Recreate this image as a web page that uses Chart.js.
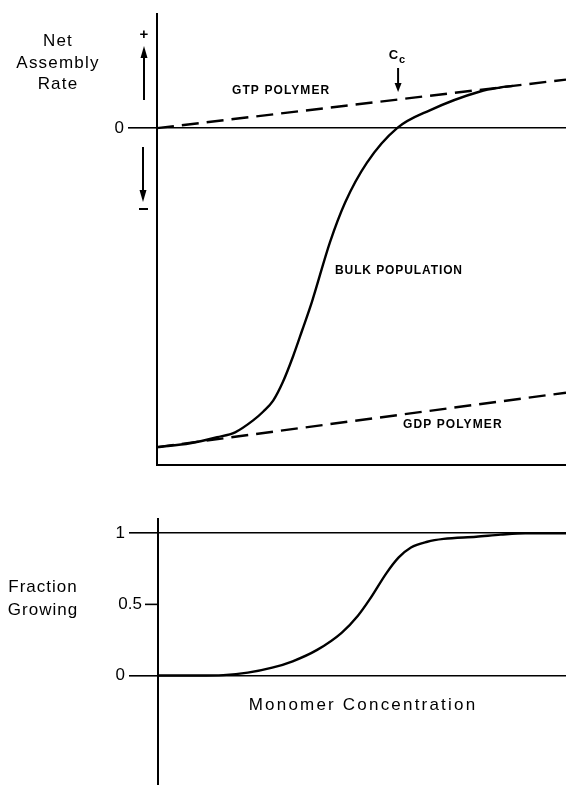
<!DOCTYPE html>
<html>
<head>
<meta charset="utf-8">
<script src="https://cdn.jsdelivr.net/npm/chart.js@4/dist/chart.umd.min.js"></script>
<style>
  html, body { margin: 0; padding: 0; background: #fff; }
  body { width: 566px; height: 785px; position: relative; overflow: hidden; }
  canvas { position: absolute; left: 0; }
  #top { top: 0; }
  #bottom { top: 490px; }
</style>
</head>
<body>
<canvas id="top" width="566" height="480"></canvas>
<canvas id="bottom" width="566" height="310"></canvas>
<script>
// ---- Data ----
const xRange = [0, 100];                 // monomer concentration (arbitrary units)
const topYRange = [-34, 11.5];           // net assembly rate (arbitrary units)
const bottomYRange = [-0.775, 1.1];      // fraction growing

const gtpX = [0, 100];
const gtpY = [0, 4.9];

const gdpX = [0, 100];
const gdpY = [-32.2, -26.7];

const bulkX = [0, 8.1, 14.7, 19.1, 23.5, 26, 28.4, 30.8, 33.3, 35.5, 37.9, 42.3, 46, 51.3, 58.7, 66.7, 79, 83.9, 87];
const bulkY = [-32.2, -31.8, -31.2, -30.7, -29.5, -28.6, -27.5, -25.6, -23.0, -20.4, -17.5, -11.5, -7.5, -3.5, 0, 1.8, 3.7, 4.1, 4.26];

const fracX = [0, 10, 16, 22, 28, 33, 39, 45, 49, 52, 56, 59, 62, 66, 70, 78, 84, 90, 100];
const fracY = [0, 0, 0.003, 0.02, 0.055, 0.1, 0.18, 0.3, 0.42, 0.54, 0.72, 0.83, 0.9, 0.94, 0.96, 0.975, 0.99, 1, 1];

const topTickValues = [0];
const topTickLabels = ['0'];
const bottomTickValues = [0, 0.5, 1];
const bottomTickLabels = ['0', '0.5', '1'];

const seriesLabels = ['GTP POLYMER', 'BULK POPULATION', 'GDP POLYMER'];
const topAxisTitle = ['Net', 'Assembly', 'Rate'];
const bottomAxisTitle = ['Fraction', 'Growing'];
const xAxisTitle = 'Monomer Concentration';

// ---- helpers ----
const pts = (xs, ys) => xs.map((x, i) => ({ x, y: ys[i] }));
const FONT = '"Liberation Sans", Arial, Helvetica, sans-serif';

function text(ctx, str, x, y, font, align, spacing) {
  ctx.save();
  ctx.font = font;
  ctx.fillStyle = '#000';
  ctx.textBaseline = 'middle';
  ctx.textAlign = align || 'left';
  try { ctx.letterSpacing = (spacing || 0) + 'px'; } catch (e) {}
  ctx.fillText(str, x, y);
  ctx.restore();
}
function arrow(ctx, x, y0, y1, head) {
  const dir = y1 > y0 ? 1 : -1;
  ctx.save();
  ctx.strokeStyle = '#000';
  ctx.fillStyle = '#000';
  ctx.lineWidth = 2;
  ctx.beginPath();
  ctx.moveTo(x, y0);
  ctx.lineTo(x, y1 - dir * head);
  ctx.stroke();
  ctx.beginPath();
  ctx.moveTo(x, y1);
  ctx.lineTo(x - 3.5, y1 - dir * head);
  ctx.lineTo(x + 3.5, y1 - dir * head);
  ctx.closePath();
  ctx.fill();
  ctx.restore();
}

const lineBase = {
  borderColor: '#000',
  borderWidth: 2.4,
  pointRadius: 0,
  fill: false,
  cubicInterpolationMode: 'monotone'
};

// ---- top chart ----
const topAnnot = {
  id: 'topAnnot',
  afterDraw(chart) {
    const ctx = chart.ctx;
    const f17 = '17px ' + FONT;
    text(ctx, topAxisTitle[0], 58, 41, f17, 'center', 1.2);
    text(ctx, topAxisTitle[1], 58, 63, f17, 'center', 1.2);
    text(ctx, topAxisTitle[2], 58, 84, f17, 'center', 1.2);
    text(ctx, '+', 144, 35, 'bold 15px ' + FONT, 'center', 0);
    arrow(ctx, 144, 100, 46, 12);
    arrow(ctx, 143, 147, 202, 12);
    ctx.save();
    ctx.strokeStyle = '#000'; ctx.lineWidth = 2;
    ctx.beginPath(); ctx.moveTo(139, 209); ctx.lineTo(148, 209); ctx.stroke();
    ctx.restore();
    const xs = chart.scales.x;
    const ccx = xs.getPixelForValue(bulkX[14]) + 1;
    text(ctx, 'C', ccx, 55, 'bold 13px ' + FONT, 'right', 0);
    text(ctx, 'c', ccx + 1, 60, 'bold 11px ' + FONT, 'left', 0);
    arrow(ctx, ccx, 68, 92, 9);
    const fb = 'bold 12px ' + FONT;
    text(ctx, seriesLabels[0], 232, 91, fb, 'left', 1.1);
    text(ctx, seriesLabels[1], 335, 271, fb, 'left', 0.9);
    text(ctx, seriesLabels[2], 403, 425, fb, 'left', 1.1);
  }
};

new Chart(document.getElementById('top'), {
  type: 'line',
  data: {
    datasets: [
      Object.assign({}, lineBase, { label: seriesLabels[0], data: pts(gtpX, gtpY), borderDash: [17, 8], cubicInterpolationMode: 'default', tension: 0 }),
      Object.assign({}, lineBase, { label: seriesLabels[1], data: pts(bulkX, bulkY) }),
      Object.assign({}, lineBase, { label: seriesLabels[2], data: pts(gdpX, gdpY), borderDash: [17, 8], cubicInterpolationMode: 'default', tension: 0 })
    ]
  },
  options: {
    responsive: false,
    animation: false,
    layout: { padding: { top: 10, left: 0, right: 0, bottom: 0 } },
    plugins: { legend: { display: false }, tooltip: { enabled: false } },
    scales: {
      x: {
        type: 'linear', min: xRange[0], max: xRange[1],
        ticks: { display: false },
        grid: { display: true, drawOnChartArea: false, drawTicks: false },
        border: { display: true, color: '#000', width: 2 },
        afterFit: (s) => { s.height = 15; }
      },
      y: {
        type: 'linear', min: topYRange[0], max: topYRange[1],
        afterBuildTicks: (s) => { s.ticks = topTickValues.map(v => ({ value: v })); },
        ticks: {
          color: '#000', padding: 4,
          font: { family: FONT, size: 17 },
          callback: (v) => { const i = topTickValues.indexOf(v); return i >= 0 ? topTickLabels[i] : ''; }
        },
        grid: {
          color: (c) => (c.tick && c.tick.value === 0) ? '#000' : 'rgba(0,0,0,0)',
          lineWidth: 1.6, tickLength: 29, tickColor: '#000', tickWidth: 1.6
        },
        border: { display: true, color: '#000', width: 2 },
        afterFit: (s) => { s.width = 157; }
      }
    }
  },
  plugins: [topAnnot]
});

// ---- bottom chart ----
const bottomAnnot = {
  id: 'bottomAnnot',
  afterDraw(chart) {
    const ctx = chart.ctx;
    const f17 = '17px ' + FONT;
    text(ctx, bottomAxisTitle[0], 43, 97, f17, 'center', 1);
    text(ctx, bottomAxisTitle[1], 43, 120, f17, 'center', 1);
    text(ctx, xAxisTitle, 363, 215, f17, 'center', 2.2);
    // short 0.5 tick with its label close to the axis
    const ys = chart.scales.y;
    const yy = ys.getPixelForValue(bottomTickValues[1]);
    ctx.save();
    ctx.strokeStyle = '#000'; ctx.lineWidth = 1.6;
    ctx.beginPath(); ctx.moveTo(145, yy); ctx.lineTo(chart.chartArea.left, yy); ctx.stroke();
    ctx.restore();
    text(ctx, bottomTickLabels[1], 142, yy, f17, 'right', 0);
  }
};

new Chart(document.getElementById('bottom'), {
  type: 'line',
  data: {
    datasets: [
      Object.assign({}, lineBase, { label: 'Fraction Growing', data: pts(fracX, fracY) })
    ]
  },
  options: {
    responsive: false,
    animation: false,
    layout: { padding: { top: 29, left: 0, right: 0, bottom: 0 } },
    plugins: { legend: { display: false }, tooltip: { enabled: false } },
    scales: {
      x: { type: 'linear', min: xRange[0], max: xRange[1], display: false },
      y: {
        type: 'linear', min: bottomYRange[0], max: bottomYRange[1],
        afterBuildTicks: (s) => { s.ticks = bottomTickValues.map(v => ({ value: v })); },
        ticks: {
          color: '#000', padding: 4,
          font: { family: FONT, size: 17 },
          callback: (v) => (v === 0 || v === 1) ? bottomTickLabels[bottomTickValues.indexOf(v)] : ''
        },
        grid: {
          color: (c) => (c.tick && (c.tick.value === 0 || c.tick.value === 1)) ? '#000' : 'rgba(0,0,0,0)',
          tickColor: (c) => (c.tick && c.tick.value === 0.5) ? 'rgba(0,0,0,0)' : '#000',
          lineWidth: 1.6, tickLength: 29, tickWidth: 1.6
        },
        border: { display: true, color: '#000', width: 2 },
        afterFit: (s) => { s.width = 158; }
      }
    }
  },
  plugins: [bottomAnnot]
});
</script>
</body>
</html>
